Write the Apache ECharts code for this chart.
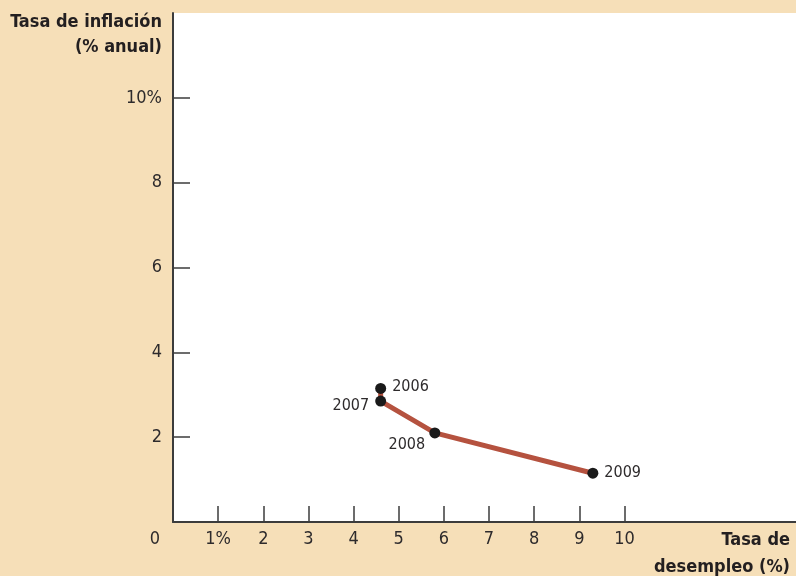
<!DOCTYPE html>
<html><head><meta charset="utf-8">
<script src="https://cdn.jsdelivr.net/npm/echarts@6/dist/echarts.min.js"></script>
<style>html,body{margin:0;padding:0;background:#f6dfb8;}#c{width:796px;height:576px;}</style>
</head><body><div id="c"></div>
<script>
var years = ['2006','2007','2008','2009'];
var unemployment = [4.6, 4.6, 5.8, 9.3];
var inflation = [3.15, 2.85, 2.1, 1.15];
var labelPos = ['right','left','bottom','right'];
var xTicks = [0,1,2,3,4,5,6,7,8,9,10];
var yTicks = [0,2,4,6,8,10];

var FONT = '"DejaVu Sans Condensed","Open Sans",sans-serif';
var TXT = '#231f20';
var TICK = '#2e2b2c';
var chart = echarts.init(document.getElementById('c'));
var pts = unemployment.map(function(u,i){
  var lp = labelPos[i];
  var lab = {show:true, formatter: years[i], position: lp, color: TICK, fontFamily: FONT, fontSize: 16, distance: 6};
  if (lp === 'bottom') { lab.offset = [-28, -8]; }
  if (i === 1) { lab.offset = [0, 5]; }
  if (i === 0) { lab.offset = [0, -2]; }
  return {value:[u, inflation[i]], label: lab};
});
chart.setOption({
  animation:false,
  backgroundColor:'#f6dfb8',
  grid:{left:173, top:13, right:0, bottom:54, outerBoundsMode:'none', containLabel:false, show:true, backgroundColor:'#ffffff', borderWidth:0},
  xAxis:{type:'value', min:0, max:13.8, interval:1,
    axisLine:{show:true, onZero:false, lineStyle:{color:'#3c3c3c', width:2}},
    axisTick:{show:true, inside:true, length:16, lineStyle:{color:'#3c3c3c', width:1.5},
      customValues: xTicks.slice(1)},
    splitLine:{show:false},
    axisLabel:{customValues: xTicks, color:TICK, fontFamily:FONT, fontSize:18, margin:8,
      formatter:function(v){ if(v===0) return '{z|0}'; if(v===1) return '1%'; return String(v); },
      rich:{z:{padding:[0,36,0,0], color:TICK, fontFamily:FONT, fontSize:18}}},
    name:'Tasa de\ndesempleo (%)', nameLocation:'end', nameGap:0,
    nameTextStyle:{color:TXT, fontFamily:FONT, fontSize:18, fontWeight:'bold', align:'right', verticalAlign:'top', lineHeight:27, padding:[5,6,0,0]}
  },
  yAxis:{type:'value', min:0, max:12, interval:2,
    axisLine:{show:true, onZero:false, lineStyle:{color:'#3c3c3c', width:2}},
    axisTick:{show:true, inside:true, length:17, lineStyle:{color:'#3c3c3c', width:1.5},
      customValues: yTicks.slice(1)},
    splitLine:{show:false},
    axisLabel:{customValues: yTicks.slice(1), color:TICK, fontFamily:FONT, fontSize:18, margin:11,
      formatter:function(v){ return v===10 ? '10%' : String(v); }},
    name:'Tasa de inflación\n(% anual)', nameLocation:'end', nameGap:3,
    nameTextStyle:{color:TXT, fontFamily:FONT, fontSize:18, fontWeight:'bold', align:'right', verticalAlign:'top', lineHeight:25, padding:[0,11,0,0]}
  },
  series:[{type:'line', data:pts, symbol:'circle', symbolSize:11,
    lineStyle:{color:'#b5523f', width:5}, itemStyle:{color:'#1a1a1a'}, z:3}]
});
</script></body></html>
